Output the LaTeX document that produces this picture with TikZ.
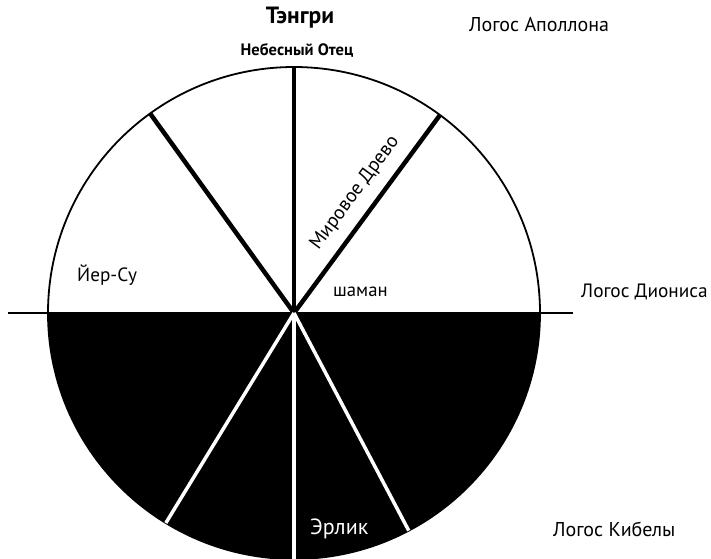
\documentclass[tikz,border=0pt]{standalone}
\usepackage{fontspec}
\setmainfont{PT Sans}
\begin{document}
\begin{tikzpicture}[x=1pt,y=1pt,
  lbl/.style={inner sep=0pt, font=\fontsize{20}{24}\selectfont},
  blbl/.style={inner sep=0pt, font=\bfseries\fontsize{16.5}{19}\selectfont},
  blackray/.style={line width=4.5pt, black},
  whiteray/.style={line width=3.5pt, white}]
\useasboundingbox (0,0) rectangle (711,-558);
\coordinate (c) at (294,-313);
% lower half black
\fill[black] (48,-313) arc[start angle=180, end angle=360, radius=246] -- cycle;
% circle outline
\draw[line width=1.8pt] (c) circle[radius=246];
% horizontal axis
\coordinate (hl) at (8,-313);
\coordinate (hr) at (573,-313);
\draw[line width=1.8pt] (hl) -- (hr);
% rim points
\path (c) ++(90:246) coordinate (u1);
\path (c) ++(125.8:246) coordinate (u2);
\path (c) ++(53.6:246) coordinate (u3);
\path (c) ++(238.6:246) coordinate (d1);
\path (c) ++(270:246) coordinate (d2);
\path (c) ++(297.8:246) coordinate (d3);
% rays
\draw[blackray] (c) -- (u1);
\draw[blackray] (c) -- (u2);
\draw[blackray] (c) -- (u3);
\draw[whiteray] (c) -- (d1);
\draw[whiteray] (c) -- (d2);
\draw[whiteray] (c) -- (d3);
% labels
\node[blbl, font=\bfseries\fontsize{23.5}{28}\selectfont] (tengri) at (300,-18) {Тэнгри};
\node[blbl] (otec) at (297,-50) {Небесный Отец};
\node[lbl, anchor=west] (apollo) at (469,-25) {Логос Аполлона};
\node[lbl, anchor=west, font=\fontsize{19.3}{23}\selectfont] (dionis) at (581,-292) {Логос Диониса};
\node[lbl, anchor=west] (kibela) at (553,-529) {Логос Кибелы};
\node[lbl, anchor=west, font=\fontsize{19.2}{23}\selectfont] (yersu) at (77,-275) {Йер-Су};
\node[lbl, anchor=west, font=\fontsize{18.7}{22}\selectfont] (shaman) at (333,-292) {шаман};
\node[lbl, rotate=53.6, font=\fontsize{19.5}{23}\selectfont] (drevo) at (355,-193) {Мировое Древо};
\node[lbl, white, anchor=west, font=\fontsize{22}{26}\selectfont] (erlik) at (310,-529) {Эрлик};
\end{tikzpicture}
\end{document}
